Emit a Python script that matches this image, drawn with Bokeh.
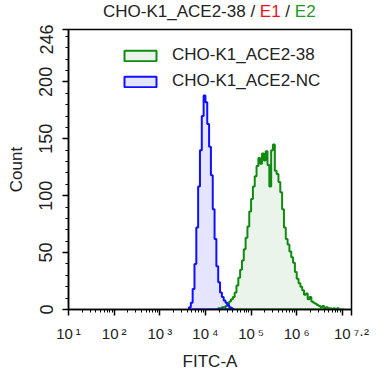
import numpy as np
from bokeh.plotting import figure
from bokeh.models import FixedTicker, Legend, LegendItem, Range1d, Div
from bokeh.layouts import column
from bokeh.embed import file_html
from bokeh.resources import INLINE

# ---------------- data ----------------
bin_width_log = 0.04          # histogram bin width in log10(FITC-A) units

nc_label = "CHO-K1_ACE2-NC"
nc_start_log = 3.64
nc_counts = [2, 6, 18, 40, 72, 108, 140, 170, 188, 182, 163, 143, 118, 88,
             62, 38, 24, 15, 11, 8, 6, 4, 2, 1, 0]

ace_label = "CHO-K1_ACE2-38"
ace_start_log = 4.24
ace_counts = [0, 1, 1, 2, 2, 3, 5, 7, 9, 11, 15, 21, 28, 35, 43, 53, 63, 73,
              86, 97, 108, 117, 126, 133, 128, 137, 131, 139, 127, 108, 140,
              145, 122, 119, 112, 103, 88, 72, 62, 57, 51, 46, 41, 33, 27, 23,
              20, 17, 13, 14, 9, 11, 7, 6, 5, 4, 3, 2, 3, 1, 2, 1, 1, 0, 1, 0,
              1, 0, 0, 0]

x_exponents = [1, 2, 3, 4, 5, 6, 7, 7.2]
x_tick_texts = ["10\u2009\u00b9", "10\u2009\u00b2", "10\u2009\u00b3", "10\u2009\u2074",
                "10\u2009\u2075", "10\u2009\u2076", "", "10\u2009\u2077\u00b7\u00b2"]
y_ticks = [0, 50, 100, 150, 200, 246]
y_max = 246

title_parts = ["CHO-K1_ACE2-38 / ", "E1", " / ", "E2"]
title_colors = ["#222222", "#e8141e", "#222222", "#1f9a1f"]
x_title = "FITC-A"
y_title = "Count"

FONT = "Liberation Sans"
BLUE = "#1010ff"
GREEN = "#118a11"
TXT = "#222222"


def stairs(start_log, counts):
    edges = start_log + bin_width_log * np.arange(len(counts) + 1)
    xs = [10 ** edges[0]]
    ys = [0]
    for i, c in enumerate(counts):
        xs += [10 ** edges[i], 10 ** edges[i + 1]]
        ys += [c, c]
    xs.append(10 ** edges[-1])
    ys.append(0)
    return xs, ys


TITLE_H = 24
p = figure(width=380, height=384 - TITLE_H, x_axis_type="log",
           x_range=Range1d(10 ** x_exponents[0], 10 ** x_exponents[-1]),
           y_range=Range1d(0, y_max),
           output_backend="svg", toolbar_location=None,
           min_border_left=68, min_border_right=29,
           min_border_top=29 - TITLE_H, min_border_bottom=75)
p.title.visible = False
p.xgrid.visible = False
p.ygrid.visible = False
p.outline_line_color = "black"
p.outline_line_width = 1.5
p.background_fill_color = "white"
p.border_fill_color = "white"

gx, gy = stairs(ace_start_log, ace_counts)
bx, by = stairs(nc_start_log, nc_counts)
r_ace = p.patch(gx, gy, fill_color=GREEN, fill_alpha=0.09,
                line_color=GREEN, line_width=2)
r_nc = p.patch(bx, by, fill_color="#0000ff", fill_alpha=0.1,
               line_color=BLUE, line_width=2)

# axes
xmaj = [10 ** e for e in x_exponents]
xmin = [m * 10 ** e for e in x_exponents[:6] for m in range(2, 10)]
p.xaxis.ticker = FixedTicker(ticks=xmaj, minor_ticks=xmin)
p.xaxis.major_label_overrides = {v: t for v, t in zip(xmaj, x_tick_texts)}
p.xaxis.major_label_text_font = FONT
p.xaxis.major_label_text_font_size = "15px"
p.xaxis.major_label_text_color = TXT
p.xaxis.major_label_standoff = 9
p.xaxis.axis_label = x_title
p.xaxis.axis_label_text_font = FONT
p.xaxis.axis_label_text_font_size = "17px"
p.xaxis.axis_label_text_font_style = "normal"
p.xaxis.axis_label_text_color = TXT
p.xaxis.axis_label_standoff = 7

p.yaxis.ticker = FixedTicker(ticks=y_ticks, minor_ticks=list(range(0, 250, 10)))
p.yaxis.major_label_orientation = "vertical"
p.yaxis.major_label_text_font = FONT
p.yaxis.major_label_text_font_size = "18px"
p.yaxis.major_label_text_color = TXT
p.yaxis.major_label_standoff = 10
p.yaxis.axis_label = y_title
p.yaxis.axis_label_text_font = FONT
p.yaxis.axis_label_text_font_size = "17px"
p.yaxis.axis_label_text_font_style = "normal"
p.yaxis.axis_label_text_color = TXT
p.yaxis.axis_label_standoff = 11

for ax in (p.xaxis, p.yaxis):
    ax.axis_line_color = "black"
    ax.axis_line_width = 1.5
    ax.major_tick_line_color = "black"
    ax.minor_tick_line_color = "black"
    ax.major_tick_line_width = 1.5
    ax.minor_tick_line_width = 1
    ax.major_tick_out = 6
    ax.major_tick_in = 0
    ax.minor_tick_out = 3
    ax.minor_tick_in = 0

legend = Legend(items=[LegendItem(label=ace_label, renderers=[r_ace]),
                       LegendItem(label=nc_label, renderers=[r_nc])],
                location=(47, 213), glyph_width=40, glyph_height=13,
                label_standoff=12, spacing=6, padding=5, margin=0,
                border_line_alpha=0, background_fill_alpha=0,
                label_text_font=FONT, label_text_font_size="17px",
                label_text_color=TXT)
p.add_layout(legend)

title_html = "".join(f'<span style="color:{c}">{t}</span>'
                     for t, c in zip(title_parts, title_colors))
title_div = Div(text=(f'<div style="font-family:\'{FONT}\'; font-size:17px; '
                      f'line-height:20px; white-space:pre; padding-left:103px; '
                      f'padding-top:2px">{title_html}</div>'),
                width=380, height=TITLE_H, margin=0)

layout = column(title_div, p, spacing=0)
open("out.html", "w").write(file_html(layout, INLINE))
